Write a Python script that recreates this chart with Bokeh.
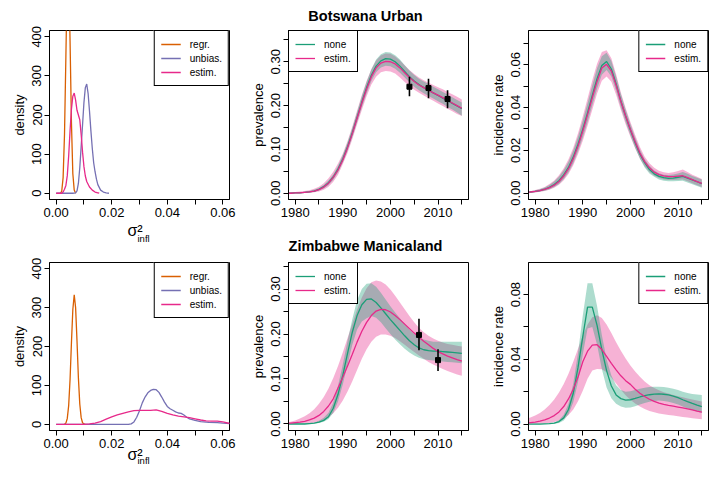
from bokeh.plotting import figure
from bokeh.layouts import column, row
from bokeh.models import Range1d, FixedTicker, Label, NumeralTickFormatter
from bokeh.embed import file_html
from bokeh.resources import INLINE

FONT = "Liberation Sans"
GREEN = "#1B9E77"
PINK = "#E7298A"
ORANGE = "#D95F02"
PURPLE = "#7570B3"

# ---------------- data ----------------
years = list(range(1978, 2016))

# Botswana Urban prevalence
bw_prev_none = [0.000, 0.000, 0.001, 0.001, 0.002, 0.003, 0.005, 0.009, 0.015, 0.024, 0.037, 0.055, 0.078, 0.106,
                0.138, 0.173, 0.208, 0.241, 0.269, 0.290, 0.302, 0.307, 0.306, 0.300, 0.290, 0.278, 0.266, 0.256,
                0.248, 0.241, 0.235, 0.229, 0.223, 0.217, 0.211, 0.205, 0.199, 0.193]
bw_prev_none_lo = [0.000, 0.000, 0.000, 0.000, 0.001, 0.002, 0.003, 0.006, 0.011, 0.019, 0.031, 0.048, 0.070, 0.097,
                   0.128, 0.162, 0.196, 0.228, 0.256, 0.276, 0.287, 0.291, 0.290, 0.284, 0.275, 0.264, 0.253, 0.243,
                   0.235, 0.228, 0.222, 0.216, 0.210, 0.204, 0.197, 0.191, 0.184, 0.177]
bw_prev_none_hi = [0.001, 0.001, 0.002, 0.002, 0.003, 0.005, 0.008, 0.012, 0.019, 0.029, 0.043, 0.062, 0.087, 0.116,
                   0.149, 0.185, 0.221, 0.254, 0.283, 0.305, 0.317, 0.322, 0.321, 0.315, 0.305, 0.292, 0.280, 0.270,
                   0.261, 0.255, 0.249, 0.243, 0.237, 0.231, 0.225, 0.219, 0.213, 0.207]
bw_prev_est = [0.000, 0.000, 0.001, 0.001, 0.002, 0.003, 0.005, 0.008, 0.014, 0.023, 0.036, 0.053, 0.076, 0.104,
               0.136, 0.171, 0.206, 0.238, 0.266, 0.286, 0.297, 0.301, 0.300, 0.295, 0.286, 0.275, 0.264, 0.255,
               0.247, 0.241, 0.235, 0.229, 0.224, 0.218, 0.212, 0.206, 0.200, 0.194]
bw_prev_est_lo = [0.000, 0.000, 0.000, 0.000, 0.001, 0.001, 0.002, 0.004, 0.008, 0.015, 0.026, 0.042, 0.066, 0.092,
                  0.123, 0.157, 0.190, 0.221, 0.248, 0.266, 0.276, 0.279, 0.278, 0.273, 0.264, 0.254, 0.244, 0.236,
                  0.229, 0.223, 0.217, 0.211, 0.205, 0.199, 0.193, 0.187, 0.181, 0.176]
bw_prev_est_hi = [0.001, 0.002, 0.003, 0.004, 0.005, 0.007, 0.010, 0.015, 0.023, 0.034, 0.049, 0.068, 0.090, 0.119,
                  0.152, 0.188, 0.224, 0.256, 0.283, 0.303, 0.314, 0.319, 0.318, 0.312, 0.303, 0.292, 0.281, 0.272,
                  0.264, 0.258, 0.252, 0.247, 0.242, 0.237, 0.231, 0.226, 0.220, 0.214]
bw_obs_year = [2004, 2008, 2012]
bw_obs = [0.243, 0.240, 0.215]
bw_obs_lo = [0.221, 0.217, 0.194]
bw_obs_hi = [0.266, 0.261, 0.235]

# Botswana Urban incidence
bw_inc_none = [0.0003, 0.0005, 0.0008, 0.0012, 0.0018, 0.0027, 0.0040, 0.0058, 0.0085, 0.0120, 0.0168, 0.0228,
               0.0298, 0.0375, 0.0456, 0.0535, 0.0596, 0.0615, 0.0580, 0.0510, 0.0430, 0.0360, 0.0295, 0.0235,
               0.0182, 0.0142, 0.0110, 0.0090, 0.0078, 0.0072, 0.0069, 0.0070, 0.0074, 0.0078, 0.0070, 0.0062,
               0.0053, 0.0044]
bw_inc_none_lo = [0.0001, 0.0002, 0.0004, 0.0007, 0.0011, 0.0018, 0.0028, 0.0043, 0.0066, 0.0097, 0.0140, 0.0195,
                  0.0260, 0.0332, 0.0410, 0.0488, 0.0553, 0.0575, 0.0545, 0.0478, 0.0400, 0.0332, 0.0270, 0.0212,
                  0.0160, 0.0120, 0.0092, 0.0076, 0.0064, 0.0058, 0.0055, 0.0055, 0.0057, 0.0058, 0.0050, 0.0041,
                  0.0033, 0.0025]
bw_inc_none_hi = [0.0005, 0.0008, 0.0013, 0.0018, 0.0026, 0.0038, 0.0054, 0.0076, 0.0107, 0.0146, 0.0198, 0.0263,
                  0.0338, 0.0420, 0.0503, 0.0583, 0.0640, 0.0656, 0.0617, 0.0545, 0.0462, 0.0390, 0.0322, 0.0260,
                  0.0203, 0.0158, 0.0128, 0.0105, 0.0093, 0.0086, 0.0084, 0.0087, 0.0092, 0.0098, 0.0090, 0.0080,
                  0.0072, 0.0064]
bw_inc_est = [0.0003, 0.0005, 0.0008, 0.0012, 0.0017, 0.0025, 0.0037, 0.0054, 0.0080, 0.0114, 0.0161, 0.0220,
              0.0290, 0.0367, 0.0447, 0.0522, 0.0585, 0.0602, 0.0570, 0.0505, 0.0428, 0.0360, 0.0297, 0.0240,
              0.0187, 0.0147, 0.0118, 0.0098, 0.0086, 0.0080, 0.0077, 0.0077, 0.0079, 0.0081, 0.0072, 0.0063,
              0.0054, 0.0045]
bw_inc_est_lo = [0.0001, 0.0002, 0.0003, 0.0006, 0.0010, 0.0016, 0.0025, 0.0039, 0.0060, 0.0089, 0.0130, 0.0183,
                 0.0245, 0.0315, 0.0390, 0.0465, 0.0525, 0.0545, 0.0520, 0.0460, 0.0388, 0.0322, 0.0263, 0.0210,
                 0.0162, 0.0125, 0.0098, 0.0081, 0.0070, 0.0064, 0.0061, 0.0061, 0.0062, 0.0063, 0.0055, 0.0046,
                 0.0037, 0.0028]
bw_inc_est_hi = [0.0006, 0.0009, 0.0014, 0.0020, 0.0029, 0.0042, 0.0059, 0.0083, 0.0116, 0.0158, 0.0212, 0.0280,
                 0.0358, 0.0442, 0.0527, 0.0605, 0.0660, 0.0668, 0.0630, 0.0555, 0.0470, 0.0398, 0.0332, 0.0272,
                 0.0215, 0.0170, 0.0140, 0.0118, 0.0104, 0.0097, 0.0094, 0.0097, 0.0103, 0.0110, 0.0098, 0.0086,
                 0.0076, 0.0066]

# Zimbabwe Manicaland prevalence
zw_prev_none = [0.000, 0.000, 0.000, 0.000, 0.000, 0.001, 0.002, 0.004, 0.008, 0.016, 0.035, 0.066, 0.108, 0.157,
                0.204, 0.241, 0.265, 0.277, 0.278, 0.270, 0.258, 0.245, 0.232, 0.220, 0.208, 0.196, 0.185, 0.176,
                0.169, 0.165, 0.163, 0.162, 0.162, 0.161, 0.160, 0.159, 0.158, 0.157]
zw_prev_none_lo = [0.000, 0.000, 0.000, 0.000, 0.000, 0.000, 0.001, 0.002, 0.005, 0.011, 0.025, 0.050, 0.088, 0.132,
                   0.176, 0.210, 0.228, 0.235, 0.240, 0.236, 0.226, 0.213, 0.200, 0.188, 0.177, 0.167, 0.159, 0.152,
                   0.147, 0.144, 0.142, 0.141, 0.140, 0.139, 0.138, 0.137, 0.136, 0.135]
zw_prev_none_hi = [0.000, 0.000, 0.001, 0.001, 0.001, 0.002, 0.003, 0.007, 0.014, 0.025, 0.048, 0.085, 0.132, 0.185,
                   0.233, 0.275, 0.300, 0.312, 0.313, 0.305, 0.292, 0.277, 0.262, 0.248, 0.235, 0.222, 0.210, 0.200,
                   0.193, 0.188, 0.185, 0.183, 0.183, 0.183, 0.183, 0.183, 0.183, 0.183]
zw_prev_est = [0.001, 0.002, 0.003, 0.004, 0.006, 0.009, 0.013, 0.019, 0.028, 0.040, 0.056, 0.080, 0.104, 0.129,
               0.155, 0.182, 0.206, 0.226, 0.241, 0.251, 0.255, 0.254, 0.249, 0.241, 0.232, 0.222, 0.212, 0.202,
               0.193, 0.184, 0.176, 0.168, 0.161, 0.156, 0.151, 0.147, 0.143, 0.140]
zw_prev_est_lo = [0.000, 0.000, 0.000, 0.001, 0.001, 0.002, 0.003, 0.005, 0.009, 0.015, 0.024, 0.036, 0.052, 0.072,
                  0.095, 0.120, 0.145, 0.166, 0.183, 0.194, 0.199, 0.199, 0.196, 0.191, 0.184, 0.176, 0.168, 0.160,
                  0.152, 0.145, 0.138, 0.132, 0.127, 0.122, 0.118, 0.114, 0.110, 0.107]
zw_prev_est_hi = [0.003, 0.005, 0.008, 0.012, 0.017, 0.024, 0.033, 0.045, 0.060, 0.079, 0.102, 0.129, 0.159, 0.191,
                  0.223, 0.254, 0.281, 0.302, 0.315, 0.319, 0.317, 0.310, 0.299, 0.285, 0.270, 0.255, 0.240, 0.226,
                  0.214, 0.204, 0.196, 0.190, 0.185, 0.181, 0.178, 0.176, 0.174, 0.172]
zw_obs_year = [2006, 2010]
zw_obs = [0.198, 0.142]
zw_obs_lo = [0.164, 0.118]
zw_obs_hi = [0.234, 0.166]

# Zimbabwe Manicaland incidence
zw_inc_none = [0.0000, 0.0000, 0.0000, 0.0000, 0.0001, 0.0002, 0.0006, 0.0015, 0.0038, 0.0090, 0.0190, 0.0350,
               0.0540, 0.0722, 0.0722, 0.0610, 0.0460, 0.0330, 0.0235, 0.0180, 0.0157, 0.0148, 0.0150, 0.0158,
               0.0167, 0.0175, 0.0181, 0.0185, 0.0186, 0.0184, 0.0180, 0.0173, 0.0163, 0.0150, 0.0138, 0.0127,
               0.0117, 0.0108]
zw_inc_none_lo = [0.0000, 0.0000, 0.0000, 0.0000, 0.0000, 0.0000, 0.0001, 0.0006, 0.0022, 0.0060, 0.0135, 0.0260,
                  0.0430, 0.0590, 0.0600, 0.0490, 0.0340, 0.0225, 0.0160, 0.0125, 0.0108, 0.0100, 0.0102, 0.0110,
                  0.0120, 0.0130, 0.0138, 0.0143, 0.0145, 0.0143, 0.0138, 0.0130, 0.0120, 0.0108, 0.0096, 0.0086,
                  0.0077, 0.0068]
zw_inc_none_hi = [0.0000, 0.0000, 0.0001, 0.0001, 0.0002, 0.0004, 0.0010, 0.0024, 0.0058, 0.0125, 0.0250, 0.0440,
                  0.0670, 0.0870, 0.0870, 0.0730, 0.0550, 0.0400, 0.0300, 0.0240, 0.0210, 0.0200, 0.0202, 0.0210,
                  0.0218, 0.0224, 0.0228, 0.0230, 0.0230, 0.0228, 0.0224, 0.0218, 0.0210, 0.0200, 0.0192, 0.0186,
                  0.0182, 0.0180]
zw_inc_est = [0.0006, 0.0009, 0.0012, 0.0018, 0.0026, 0.0037, 0.0052, 0.0075, 0.0108, 0.0155, 0.0215, 0.0290,
              0.0385, 0.0450, 0.0488, 0.0490, 0.0460, 0.0418, 0.0375, 0.0335, 0.0298, 0.0268, 0.0245, 0.0215,
              0.0190, 0.0170, 0.0153, 0.0140, 0.0129, 0.0121, 0.0115, 0.0110, 0.0105, 0.0100, 0.0094, 0.0087,
              0.0080, 0.0074]
zw_inc_est_lo = [0.0000, 0.0000, 0.0001, 0.0002, 0.0004, 0.0007, 0.0012, 0.0020, 0.0033, 0.0055, 0.0090, 0.0140,
                 0.0205, 0.0280, 0.0330, 0.0340, 0.0338, 0.0320, 0.0288, 0.0250, 0.0212, 0.0178, 0.0150, 0.0127,
                 0.0108, 0.0093, 0.0081, 0.0072, 0.0065, 0.0060, 0.0056, 0.0052, 0.0048, 0.0044, 0.0040, 0.0036,
                 0.0032, 0.0029]
zw_inc_est_hi = [0.0030, 0.0040, 0.0052, 0.0068, 0.0090, 0.0118, 0.0152, 0.0195, 0.0248, 0.0310, 0.0385, 0.0465,
                 0.0545, 0.0615, 0.0660, 0.0672, 0.0655, 0.0615, 0.0562, 0.0505, 0.0452, 0.0405, 0.0362, 0.0325,
                 0.0292, 0.0263, 0.0240, 0.0222, 0.0208, 0.0197, 0.0188, 0.0180, 0.0172, 0.0165, 0.0158, 0.0151,
                 0.0145, 0.0139]

# posterior densities of sigma^2_infl
bw_regr_x = [0.0015, 0.0020, 0.0025, 0.0030, 0.0035, 0.0040, 0.0042, 0.0045, 0.0050, 0.0055, 0.0060, 0.0065, 0.0070]
bw_regr_y = [0, 5, 40, 150, 350, 560, 600, 570, 390, 180, 50, 8, 0]
bw_unb_x = [0.000, 0.006, 0.007, 0.0075, 0.008, 0.0085, 0.009, 0.0095, 0.010, 0.0105, 0.011, 0.0115, 0.012,
            0.0125, 0.013, 0.0135, 0.014, 0.0145, 0.015, 0.016, 0.017, 0.018, 0.019]
bw_unb_y = [0, 0, 1, 6, 25, 65, 120, 175, 232, 270, 279, 255, 210, 160, 115, 78, 55, 36, 22, 8, 3, 1, 0]
bw_est_x = [0.000, 0.002, 0.0025, 0.003, 0.0035, 0.004, 0.0045, 0.005, 0.0055, 0.006, 0.0065, 0.007, 0.0075,
            0.008, 0.0085, 0.009, 0.0095, 0.010, 0.0105, 0.011, 0.012, 0.013, 0.014, 0.015, 0.0155]
bw_est_y = [0, 0, 3, 10, 20, 45, 95, 160, 215, 248, 256, 238, 212, 200, 188, 150, 105, 68, 44, 30, 16, 8, 3, 1, 0]

zw_regr_x = [0.003, 0.0035, 0.004, 0.0045, 0.005, 0.0055, 0.006, 0.0065, 0.007, 0.0075, 0.008, 0.0085, 0.009,
             0.0095, 0.010, 0.0105]
zw_regr_y = [0, 3, 15, 48, 115, 210, 295, 333, 300, 215, 120, 52, 17, 4, 1, 0]
zw_unb_x = [0.000, 0.026, 0.027, 0.028, 0.029, 0.030, 0.031, 0.032, 0.033, 0.034, 0.035, 0.036, 0.037, 0.038,
            0.039, 0.040, 0.041, 0.042, 0.043, 0.044, 0.045, 0.046, 0.047, 0.048, 0.050, 0.052, 0.055, 0.058,
            0.060, 0.0625]
zw_unb_y = [0, 0, 1, 6, 18, 35, 55, 70, 81, 87, 90, 89, 82, 70, 57, 46, 40, 36, 32, 29, 28, 24, 18, 14, 10, 7,
            5, 4, 3, 2]
zw_est_x = [0.000, 0.010, 0.012, 0.014, 0.016, 0.018, 0.020, 0.022, 0.024, 0.026, 0.028, 0.030, 0.032, 0.034,
            0.036, 0.038, 0.040, 0.042, 0.044, 0.046, 0.048, 0.050, 0.052, 0.054, 0.056, 0.058, 0.060, 0.0625]
zw_est_y = [0, 0, 1, 3, 7, 13, 19, 24, 28, 32, 35, 36, 36, 36, 37, 33, 28, 24, 21, 19, 17, 14, 11, 9, 8, 8, 6, 2]

# ticks
year_ticks = [1980, 1990, 2000, 2010]
year_minor = [1985, 1995, 2005, 2015]
dens_xticks = [0.00, 0.02, 0.04, 0.06]
dens_xminor = [0.01, 0.03, 0.05]
dens_yticks = [0, 100, 200, 300, 400]
prev_ticks = [0.0, 0.1, 0.2, 0.3]
prev_minor = [0.05, 0.15, 0.25, 0.35]
bw_inc_ticks = [0.0, 0.02, 0.04, 0.06]
bw_inc_minor = [0.01, 0.03, 0.05, 0.07]
zw_inc_ticks = [0.0, 0.04, 0.08]
zw_inc_minor = [0.02, 0.06]

dens_labels = ["regr.", "unbias.", "estim."]
fit_labels = ["none", "estim."]
titles = ["Botswana Urban", "Zimbabwe Manicaland"]
sigma_main = "σ²\u00a0\u00a0"
sigma_sub = "infl"


# ---------------- helpers ----------------
def make_fig(fh, left, right, top, bottom, xr, yr, xt, xm, yt, ym, ylabel, yfmt=None, xfmt=None):
    p = figure(frame_width=180, frame_height=fh, x_range=Range1d(*xr), y_range=Range1d(*yr),
               output_backend="svg", toolbar_location=None,
               min_border_left=left, min_border_right=right, min_border_top=top, min_border_bottom=bottom)
    p.grid.visible = False
    p.outline_line_color = "black"
    p.outline_line_width = 1
    p.outline_line_alpha = 1
    p.background_fill_color = "white"
    p.border_fill_color = "white"
    p.xaxis[0].ticker = FixedTicker(ticks=xt, minor_ticks=xm)
    p.yaxis[0].ticker = FixedTicker(ticks=yt, minor_ticks=ym)
    if xfmt:
        p.xaxis[0].formatter = NumeralTickFormatter(format=xfmt)
    if yfmt:
        p.yaxis[0].formatter = NumeralTickFormatter(format=yfmt)
    for ax in (p.xaxis[0], p.yaxis[0]):
        ax.major_tick_out = 5
        ax.major_tick_in = 0
        ax.minor_tick_out = 5
        ax.minor_tick_in = 0
        ax.axis_line_color = "black"
        ax.major_tick_line_color = "black"
        ax.minor_tick_line_color = "black"
        ax.major_label_text_font = FONT
        ax.major_label_text_font_size = "13px"
        ax.major_label_text_color = "black"
        ax.axis_label_text_font = FONT
        ax.axis_label_text_font_size = "13px"
        ax.axis_label_text_font_style = "normal"
        ax.axis_label_text_color = "black"
        ax.major_label_standoff = 3
        ax.axis_label_standoff = 3
    p.yaxis[0].major_label_orientation = "vertical"
    p.yaxis[0].axis_label = ylabel
    return p


def style_legend(p, loc):
    lg = p.legend[0]
    lg.location = loc
    lg.margin = 0
    lg.padding = 6
    lg.spacing = 0
    lg.label_height = 14
    lg.glyph_height = 14
    lg.glyph_width = 20
    lg.label_standoff = 9
    lg.label_text_font = FONT
    lg.label_text_font_size = "10px"
    lg.label_text_color = "black"
    lg.border_line_color = "black"
    lg.border_line_width = 1
    lg.border_line_alpha = 1
    lg.background_fill_alpha = 1


def sigma_label(p, standoff, sub_y):
    ax = p.xaxis[0]
    ax.axis_label = sigma_main
    ax.axis_label_text_font_size = "16px"
    ax.axis_label_standoff = standoff
    p.add_layout(Label(x=88, y=sub_y, x_units="screen", y_units="screen", text=sigma_sub, text_align="left",
                       text_baseline="alphabetic", text_font=FONT, text_font_size="9.5px", text_color="black"),
                 "below")


def title_label(p, text, x, y):
    p.add_layout(Label(x=x, y=y, x_units="screen", y_units="screen", text=text, text_align="center",
                       text_baseline="alphabetic", text_font=FONT, text_font_size="14.5px",
                       text_font_style="bold", text_color="black"), "above")


LW = 1.3
BAND_ALPHA = 0.36


def density_fig(fh, top, bottom, rx, ry, ux, uy, ex, ey, standoff, sub_y):
    p = make_fig(fh, 49, 18, top, bottom, (-0.0024, 0.0624), (-16, 416),
                 dens_xticks, dens_xminor, dens_yticks, [], "density", xfmt="0.00")
    p.line(rx, ry, color=ORANGE, line_width=LW, legend_label=dens_labels[0])
    p.line(ux, uy, color=PURPLE, line_width=LW, legend_label=dens_labels[1])
    p.line(ex, ey, color=PINK, line_width=LW, legend_label=dens_labels[2])
    style_legend(p, "top_right")
    sigma_label(p, standoff, sub_y)
    return p


def prev_fig(fh, top, bottom, yr, none, nlo, nhi, est, elo, ehi, oy, o, olo, ohi, title, ty):
    p = make_fig(fh, 41, 19, top, bottom, (1978.6, 2016.4), yr,
                 year_ticks, year_minor, prev_ticks, prev_minor, "prevalence", yfmt="0.00")
    p.varea(x=years, y1=elo, y2=ehi, fill_color=PINK, fill_alpha=BAND_ALPHA)
    p.varea(x=years, y1=nlo, y2=nhi, fill_color=GREEN, fill_alpha=BAND_ALPHA)
    p.line(years, none, color=GREEN, line_width=LW, legend_label=fit_labels[0])
    p.line(years, est, color=PINK, line_width=LW, legend_label=fit_labels[1])
    p.segment(x0=oy, y0=olo, x1=oy, y1=ohi, line_color="black", line_width=1.6)
    p.scatter(oy, o, marker="square", size=5, color="black")
    style_legend(p, "top_left")
    title_label(p, title, 77, ty)
    return p


def inc_fig(fh, top, bottom, yr, yt, ym, none, nlo, nhi, est, elo, ehi):
    p = make_fig(fh, 41, 9, top, bottom, (1978.6, 2016.4), yr,
                 year_ticks, year_minor, yt, ym, "incidence rate", yfmt="0.00")
    p.varea(x=years, y1=elo, y2=ehi, fill_color=PINK, fill_alpha=BAND_ALPHA)
    p.varea(x=years, y1=nlo, y2=nhi, fill_color=GREEN, fill_alpha=BAND_ALPHA)
    p.line(years, none, color=GREEN, line_width=LW, legend_label=fit_labels[0])
    p.line(years, est, color=PINK, line_width=LW, legend_label=fit_labels[1])
    style_legend(p, "top_right")
    return p


# column 1: top figure is taller (room for sigma label), bottom one starts right below
p1 = density_fig(169, 30, 56, bw_regr_x, bw_regr_y, bw_unb_x, bw_unb_y, bw_est_x, bw_est_y, 2, 14)
p4 = density_fig(168, 7, 48, zw_regr_x, zw_regr_y, zw_unb_x, zw_unb_y, zw_est_x, zw_est_y, -5, 16)

p2 = prev_fig(169, 30, 37, (-0.0143, 0.3713), bw_prev_none, bw_prev_none_lo, bw_prev_none_hi,
              bw_prev_est, bw_prev_est_lo, bw_prev_est_hi, bw_obs_year, bw_obs, bw_obs_lo, bw_obs_hi,
              titles[0], 15)
p5 = prev_fig(168, 26, 48, (-0.0145, 0.359), zw_prev_none, zw_prev_none_lo, zw_prev_none_hi,
              zw_prev_est, zw_prev_est_lo, zw_prev_est_hi, zw_obs_year, zw_obs, zw_obs_lo, zw_obs_hi,
              titles[1], 17)

p3 = inc_fig(169, 30, 37, (-0.003, 0.076), bw_inc_ticks, bw_inc_minor, bw_inc_none, bw_inc_none_lo,
             bw_inc_none_hi, bw_inc_est, bw_inc_est_lo, bw_inc_est_hi)
p6 = inc_fig(168, 26, 48, (-0.004, 0.0998), zw_inc_ticks, zw_inc_minor, zw_inc_none, zw_inc_none_lo,
             zw_inc_none_hi, zw_inc_est, zw_inc_est_lo, zw_inc_est_hi)

layout = row(column(p1, p4, spacing=0), column(p2, p5, spacing=0), column(p3, p6, spacing=0), spacing=0)

open("out.html", "w").write(file_html(layout, INLINE))
